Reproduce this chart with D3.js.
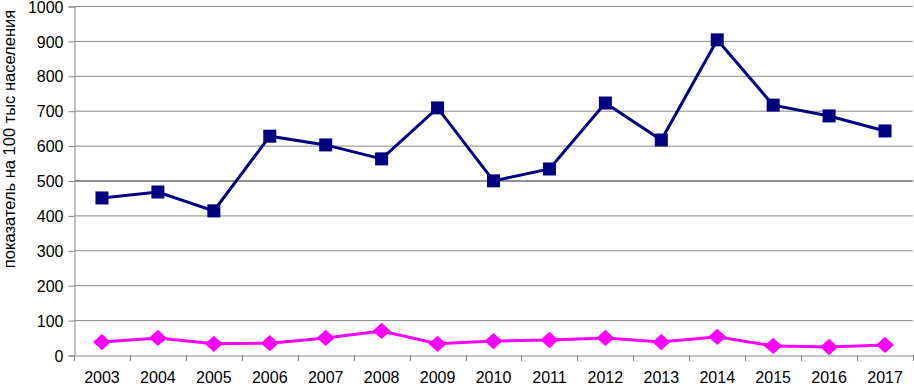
<!DOCTYPE html>
<html>
<head>
<meta charset="utf-8">
<script src="https://cdn.jsdelivr.net/npm/d3@7"></script>
<style>
  body { margin: 0; background: #fff; }
  svg text { font-family: "Liberation Sans", Arial, sans-serif; fill: #000; }
</style>
</head>
<body>
<svg id="chart" width="914" height="388"></svg>
<script>
// years and two series
const years = ['2003','2004','2005','2006','2007','2008','2009','2010','2011','2012','2013','2014','2015','2016','2017'];
const seriesTop = [450, 467, 413, 627, 602, 562, 708, 499, 533, 722, 616, 903, 716, 685, 642];
const seriesBottom = [37, 49, 32, 34, 49, 69, 32, 40, 43, 49, 37, 52, 26, 23, 29];
const yTicks = [0, 100, 200, 300, 400, 500, 600, 700, 800, 900, 1000];

const svg = d3.select('#chart');
const L = 74, R = 913, T = 6, B = 355;

const x = d3.scaleBand().domain(years).range([L, R]);
const y = d3.scaleLinear().domain([0, 1000]).range([B, T]);

// gridlines (500 drawn darker, as in the original)
svg.append('g').selectAll('line').data(yTicks.filter(d => d > 0)).enter().append('line')
  .attr('x1', L).attr('x2', R)
  .attr('y1', d => y(d) + 0.5).attr('y2', d => y(d) + 0.5)
  .attr('stroke', d => d === 500 ? '#222' : '#888').attr('stroke-width', 1);

// y axis
const ya = svg.append('g').attr('transform', `translate(${L + 0.5},0.5)`)
  .call(d3.axisLeft(y).tickValues(yTicks).tickFormat(d3.format('d')).tickSize(6).tickPadding(5));
ya.select('.domain').attr('stroke', '#888');
ya.selectAll('.tick line').attr('stroke', '#888');
ya.selectAll('text').style('font-size', '16px').attr('dy', '0.35em');

// x axis, ticks on category boundaries
const xa = svg.append('g').attr('transform', `translate(0,${B + 0.5})`)
  .call(d3.axisBottom(x).tickSize(0).tickPadding(16));
xa.select('.domain').attr('stroke', '#888');
xa.selectAll('text').style('font-size', '16px');
svg.append('g').selectAll('line').data(years.concat(['end'])).enter().append('line')
  .attr('x1', (d, i) => Math.round(L + i * x.step()) + 0.5)
  .attr('x2', (d, i) => Math.round(L + i * x.step()) + 0.5)
  .attr('y1', B).attr('y2', B + 6)
  .attr('stroke', '#888');

// y title
svg.append('text')
  .attr('transform', `translate(15,139) rotate(-90)`)
  .attr('text-anchor', 'middle')
  .style('font-size', '16.5px')
  .text('показатель на 100 тыс населения');

const cx = d => x(d) + x.bandwidth() / 2;
const line = d3.line().x((d, i) => cx(years[i])).y(d => y(d));

// navy series with squares
svg.append('path').datum(seriesTop).attr('d', line)
  .attr('fill', 'none').attr('stroke', '#000080').attr('stroke-width', 3);
svg.append('g').selectAll('rect').data(seriesTop).enter().append('rect')
  .attr('x', (d, i) => cx(years[i]) - 6.5).attr('y', d => y(d) - 6.5)
  .attr('width', 13).attr('height', 13).attr('fill', '#000080');

// magenta series with diamonds
svg.append('path').datum(seriesBottom).attr('d', line)
  .attr('fill', 'none').attr('stroke', '#ff00ff').attr('stroke-width', 3);
svg.append('g').selectAll('path.dia').data(seriesBottom).enter().append('path')
  .attr('class', 'dia')
  .attr('d', d3.symbol().type(d3.symbolDiamond2).size(170))
  .attr('transform', (d, i) => `translate(${cx(years[i])},${y(d)}) scale(1.1,1)`)
  .attr('fill', '#ff00ff');
</script>
</body>
</html>
